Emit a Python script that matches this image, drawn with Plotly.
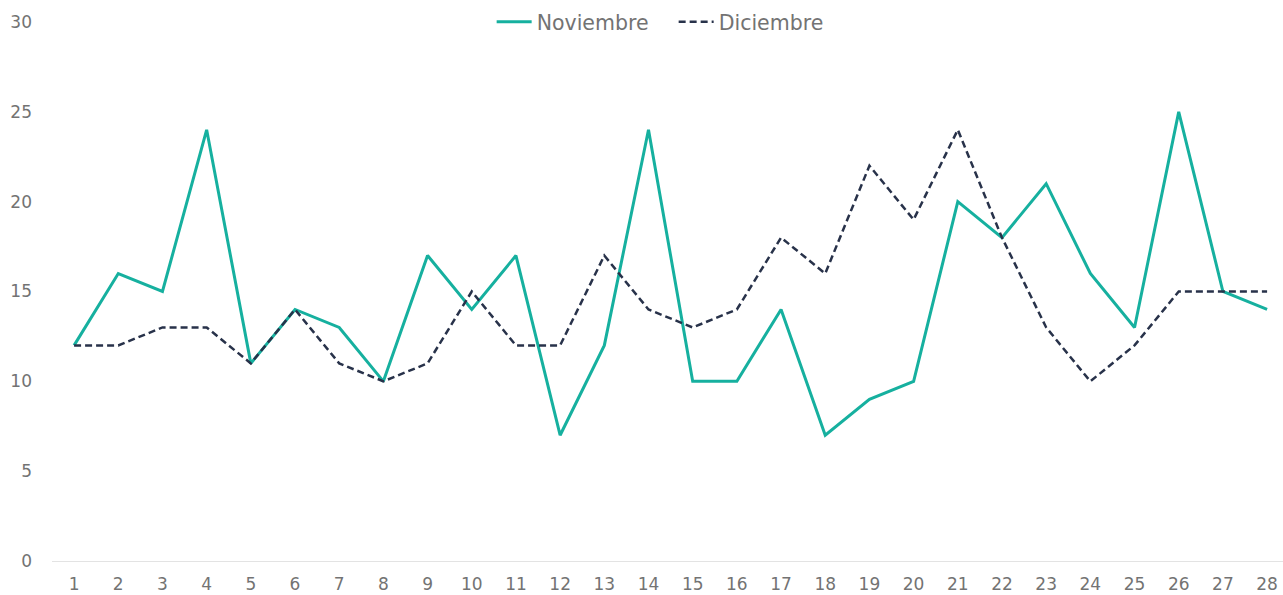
import plotly.graph_objects as go

days = list(range(1, 29))
noviembre = [12, 16, 15, 24, 11, 14, 13, 10, 17, 14, 17, 7, 12, 24, 10, 10, 14, 7, 9, 10, 20, 18, 21, 16, 13, 25, 15, 14]
diciembre = [12, 12, 13, 13, 11, 14, 11, 10, 11, 15, 12, 12, 17, 14, 13, 14, 18, 16, 22, 19, 24, 18, 13, 10, 12, 15, 15, 15]
y_ticks = [0, 5, 10, 15, 20, 25, 30]

fig = go.Figure()
fig.add_trace(go.Scatter(x=days, y=noviembre, mode="lines", name="Noviembre",
                         line=dict(color="#16B09F", width=3)))
fig.add_trace(go.Scatter(x=days, y=diciembre, mode="lines", name="Diciembre",
                         line=dict(color="#28324A", width=2.5, dash="7px,4px")))

fig.update_layout(
    width=1283, height=595,
    margin=dict(l=52, r=0, t=22, b=34),
    paper_bgcolor="white", plot_bgcolor="white",
    font=dict(family="DejaVu Sans", color="#737373", size=17),
    legend=dict(orientation="h", x=0.505, xanchor="center", y=1.0, yanchor="middle",
                font=dict(size=20.5, color="#737373"), bgcolor="rgba(0,0,0,0)",
                itemwidth=35, entrywidth=132),
    xaxis=dict(range=[0.5, 28.36], tickmode="array", tickvals=days,
               ticktext=[str(d) for d in days], showgrid=False, zeroline=False,
               showline=True, linecolor="#E3E3E3", linewidth=1, ticks="",
               ticklabelstandoff=8),
    yaxis=dict(range=[0, 30], tickmode="array", tickvals=y_ticks, showgrid=False,
               zeroline=False, showline=False, ticks="", ticklabelstandoff=19),
)

fig.write_html("out.html", config={"displayModeBar": False},
               post_script="document.body.style.margin='0px';document.body.style.overflow='hidden';")
